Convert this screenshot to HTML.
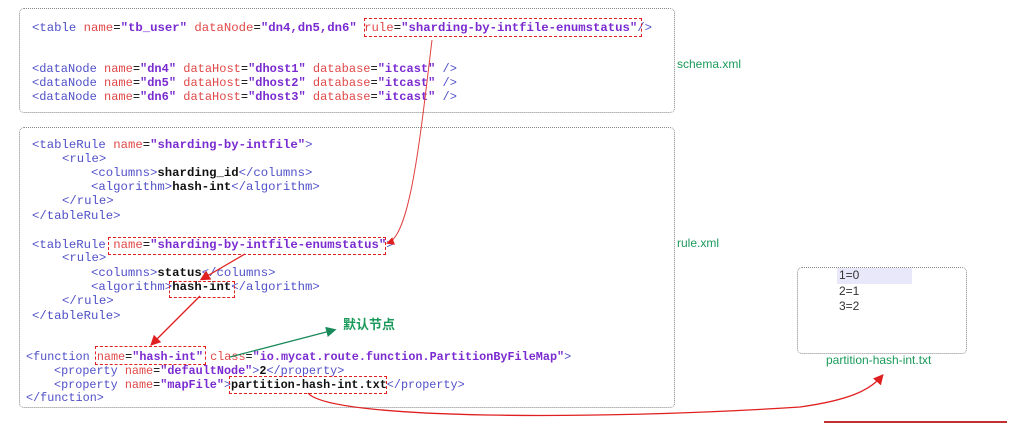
<!DOCTYPE html>
<html><head><meta charset="utf-8"><style>
body{margin:0;width:1024px;height:438px;background:#fff;position:relative;overflow:hidden;font-family:"Liberation Mono",monospace}
.box{position:absolute;border:1px dotted #888;border-radius:5px}
.l{position:absolute;white-space:pre;line-height:14px;font-size:12.3px}
.f{font-size:11.8px}
.s{font-size:12px}
.t{color:#5050c8}.n{color:#e04848}.v{color:#7a2bd0;font-weight:bold}.k{color:#111;font-weight:bold}
.d{position:absolute;border:1.5px dashed #e02020}
.g{position:absolute;color:#1a9a5a;font-family:"Liberation Sans","Noto Sans CJK SC",sans-serif;font-size:12px}
</style></head><body>
<div class="box" style="left:19px;top:8px;width:654px;height:103px"></div>
<div class="box" style="left:19px;top:127px;width:654px;height:279px"></div>
<div class="box" style="left:797px;top:267px;width:168px;height:85px"></div>

<div class="l" style="left:32px;top:21px"><span class="t">&lt;table</span> <span class="n">name</span>=<span class="v">"tb_user"</span> <span class="n">dataNode</span>=<span class="v">"dn4,dn5,dn6"</span> <span class="n">rule</span>=<span class="v">"sharding-by-intfile-enumstatus"</span><span class="t">/&gt;</span></div>
<div class="l s" style="left:32px;top:62px"><span class="t">&lt;dataNode</span> <span class="n">name</span>=<span class="v">"dn4"</span> <span class="n">dataHost</span>=<span class="v">"dhost1"</span> <span class="n">database</span>=<span class="v">"itcast"</span> <span class="t">/&gt;</span></div>
<div class="l s" style="left:32px;top:76px"><span class="t">&lt;dataNode</span> <span class="n">name</span>=<span class="v">"dn5"</span> <span class="n">dataHost</span>=<span class="v">"dhost2"</span> <span class="n">database</span>=<span class="v">"itcast"</span> <span class="t">/&gt;</span></div>
<div class="l s" style="left:32px;top:90px"><span class="t">&lt;dataNode</span> <span class="n">name</span>=<span class="v">"dn6"</span> <span class="n">dataHost</span>=<span class="v">"dhost3"</span> <span class="n">database</span>=<span class="v">"itcast"</span> <span class="t">/&gt;</span></div>

<div class="l" style="left:32px;top:138px"><span class="t">&lt;tableRule</span> <span class="n">name</span>=<span class="v">"sharding-by-intfile"</span><span class="t">&gt;</span></div>
<div class="l" style="left:62px;top:152px"><span class="t">&lt;rule&gt;</span></div>
<div class="l" style="left:91px;top:166px"><span class="t">&lt;columns&gt;</span><span class="k">sharding_id</span><span class="t">&lt;/columns&gt;</span></div>
<div class="l" style="left:91px;top:180px"><span class="t">&lt;algorithm&gt;</span><span class="k">hash-int</span><span class="t">&lt;/algorithm&gt;</span></div>
<div class="l" style="left:62px;top:194px"><span class="t">&lt;/rule&gt;</span></div>
<div class="l" style="left:32px;top:209px"><span class="t">&lt;/tableRule&gt;</span></div>

<div class="l" style="left:32px;top:238px"><span class="t">&lt;tableRule</span> <span class="n">name</span>=<span class="v">"sharding-by-intfile-enumstatus"</span><span class="t">&gt;</span></div>
<div class="l" style="left:62px;top:251px"><span class="t">&lt;rule&gt;</span></div>
<div class="l" style="left:91px;top:266px"><span class="t">&lt;columns&gt;</span><span class="k">status</span><span class="t">&lt;/columns&gt;</span></div>
<div class="l" style="left:91px;top:280px"><span class="t">&lt;algorithm&gt;</span><span class="k">hash-int</span><span class="t">&lt;/algorithm&gt;</span></div>
<div class="l" style="left:62px;top:294px"><span class="t">&lt;/rule&gt;</span></div>
<div class="l" style="left:32px;top:309px"><span class="t">&lt;/tableRule&gt;</span></div>

<div class="l f" style="left:26px;top:350px"><span class="t">&lt;function</span> <span class="n">name</span>=<span class="v">"hash-int"</span> <span class="n">class</span>=<span class="v">"io.mycat.route.function.PartitionByFileMap"</span><span class="t">&gt;</span></div>
<div class="l f" style="left:54px;top:364px"><span class="t">&lt;property</span> <span class="n">name</span>=<span class="v">"defaultNode"</span><span class="t">&gt;</span><span class="k">2</span><span class="t">&lt;/property&gt;</span></div>
<div class="l f" style="left:54px;top:378px"><span class="t">&lt;property</span> <span class="n">name</span>=<span class="v">"mapFile"</span><span class="t">&gt;</span><span class="k">partition-hash-int.txt</span><span class="t">&lt;/property&gt;</span></div>
<div class="l f" style="left:26px;top:391px"><span class="t">&lt;/function&gt;</span></div>

<div class="d" style="left:364px;top:18px;width:276px;height:17px"></div>
<div class="d" style="left:108px;top:237px;width:276px;height:16px"></div>
<div class="d" style="left:169px;top:281px;width:64px;height:15px"></div>
<div class="d" style="left:95px;top:346px;width:109px;height:17px"></div>
<div class="d" style="left:229px;top:376px;width:156px;height:16px"></div>

<div class="g" style="left:677px;top:57px">schema.xml</div>
<div class="g" style="left:677px;top:236px">rule.xml</div>
<div class="g" style="left:343px;top:314px;font-size:13px;font-weight:bold">默认节点</div>
<div class="g" style="left:826px;top:353px">partition-hash-int.txt</div>
<div style="position:absolute;left:837px;top:268px;width:75px;height:16px;background:#e8e8fa"></div>
<div style="position:absolute;left:839px;top:268px;font-family:'Liberation Sans',sans-serif;font-size:12px;color:#333;line-height:15.5px">1=0<br>2=1<br>3=2</div>
<div style="position:absolute;left:824px;top:421px;width:183px;height:2px;background:#c03030"></div>

<svg width="1024" height="438" style="position:absolute;left:0;top:0">
<defs>
<marker id="r" markerWidth="8" markerHeight="8" refX="6" refY="4" orient="auto"><path d="M0,0 L8,4 L0,8z" fill="#e02020"/></marker>
<marker id="gm" markerWidth="8" markerHeight="8" refX="6" refY="4" orient="auto"><path d="M0,0 L8,4 L0,8z" fill="#1a8a5a"/></marker>
</defs>
<path d="M432,40 C420,140 410,235 388,243" stroke="#e04040" stroke-width="1" fill="none" marker-end="url(#r)"/>
<path d="M245,254 L202,279" stroke="#e02020" stroke-width="1.3" fill="none" marker-end="url(#r)"/>
<path d="M200,296 L152,344" stroke="#e02020" stroke-width="1.3" fill="none" marker-end="url(#r)"/>
<path d="M230,357 L334,330" stroke="#1a8a5a" stroke-width="1.3" fill="none" marker-end="url(#gm)"/>
<path d="M308,393 C330,420 600,420 800,407 C850,400 870,390 882,376" stroke="#e02020" stroke-width="1.3" fill="none" marker-end="url(#r)"/>
</svg>
</body></html>
